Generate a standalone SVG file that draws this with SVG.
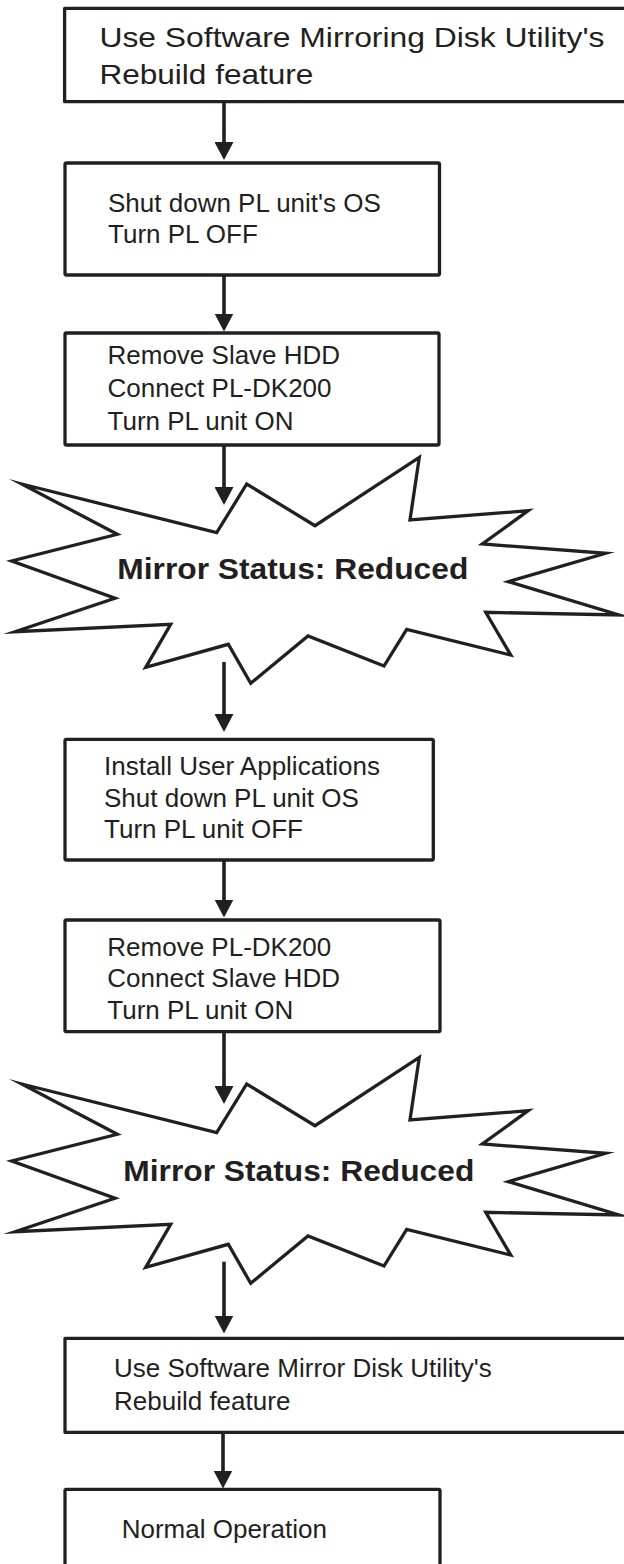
<svg xmlns="http://www.w3.org/2000/svg" xmlns:xlink="http://www.w3.org/1999/xlink" width="624" height="1564" viewBox="0 0 624 1564">
<style>
.box{fill:#fff;stroke:#231f20;stroke-width:3.3;stroke-linejoin:round}
.burst{fill:#fff;stroke:#231f20;stroke-width:3.3;stroke-linejoin:miter;stroke-miterlimit:20}
.t{font-family:"Liberation Sans",Arial,Helvetica,sans-serif;font-size:26px;fill:#231f20}
.tl{font-family:"Liberation Sans",Arial,Helvetica,sans-serif;font-size:28.5px;fill:#231f20}
.tb{font-family:"Liberation Sans",Arial,Helvetica,sans-serif;font-size:29px;font-weight:bold;fill:#231f20}
.c{stroke:#231f20;stroke-width:3.6;fill:none}
</style>
<defs>
<marker id="ah" markerUnits="userSpaceOnUse" markerWidth="18" markerHeight="19" viewBox="0 0 18 19" refX="6" refY="9.5" orient="auto">
<path d="M0,0 L18,9.5 L0,19 z" fill="#231f20"/>
</marker>
<polygon id="burstShape" points="21.7,484 216.7,532.7 246.7,484 315,525.7 419.3,457.3 410,520 528.3,510.7 482.3,544 605.7,553.3 508.3,581.7 619,615 485.7,612.3 510.7,655 406.7,629.3 384,666 308,636 250.7,683.3 228.3,644.3 145.7,667.3 170.7,624.3 15,631.7 115,598.3 11.7,561 117.3,534.3"/>
</defs>
<g id="n1">
<rect class="box" x="64.6" y="8.3" width="600" height="93.4"/>
<text class="tl" x="99.4" y="46.5" textLength="505" lengthAdjust="spacingAndGlyphs">Use Software Mirroring Disk Utility's</text>
<text class="tl" x="99.4" y="84.2" textLength="214" lengthAdjust="spacingAndGlyphs">Rebuild feature</text>
</g>
<g id="n2">
<rect class="box" x="65" y="163" width="374.5" height="112" rx="1.5"/>
<text class="t" x="108" y="211.7">Shut down PL unit's OS</text>
<text class="t" x="108" y="243.3">Turn PL OFF</text>
</g>
<g id="n3">
<rect class="box" x="65" y="333" width="374" height="112" rx="1.5"/>
<text class="t" x="107.5" y="364">Remove Slave HDD</text>
<text class="t" x="107.5" y="397">Connect PL-DK200</text>
<text class="t" x="107.5" y="430">Turn PL unit ON</text>
</g>
<g id="n4">
<use xlink:href="#burstShape" class="burst"/>
<text class="tb" x="117.3" y="579" textLength="351" lengthAdjust="spacingAndGlyphs">Mirror Status: Reduced</text>
</g>
<g id="n5">
<rect class="box" x="65" y="739.3" width="368.3" height="120.7" rx="1.5"/>
<text class="t" x="104" y="775">Install User Applications</text>
<text class="t" x="104" y="806.7">Shut down PL unit OS</text>
<text class="t" x="104" y="838.3">Turn PL unit OFF</text>
</g>
<g id="n6">
<rect class="box" x="65" y="920" width="375" height="111.7" rx="1.5"/>
<text class="t" x="107.3" y="956">Remove PL-DK200</text>
<text class="t" x="107.3" y="987.3">Connect Slave HDD</text>
<text class="t" x="107.3" y="1019.3">Turn PL unit ON</text>
</g>
<g id="n7">
<use xlink:href="#burstShape" class="burst" transform="translate(0,600)"/>
<text class="tb" x="123.3" y="1181" textLength="351" lengthAdjust="spacingAndGlyphs">Mirror Status: Reduced</text>
</g>
<g id="n8">
<rect class="box" x="65" y="1338.3" width="600" height="94"/>
<text class="t" x="114" y="1376.7">Use Software Mirror Disk Utility's</text>
<text class="t" x="114" y="1410">Rebuild feature</text>
</g>
<g id="n9">
<rect class="box" x="65" y="1489.3" width="375" height="100" rx="1.5"/>
<text class="t" x="121.7" y="1538.3">Normal Operation</text>
</g>
<g id="connectors">
<line class="c" x1="224" y1="102" x2="224" y2="148" marker-end="url(#ah)"/>
<line class="c" x1="224" y1="275" x2="224" y2="319.5" marker-end="url(#ah)"/>
<line class="c" x1="224" y1="445" x2="224" y2="493" marker-end="url(#ah)"/>
<line class="c" x1="224" y1="662" x2="224" y2="720" marker-end="url(#ah)"/>
<line class="c" x1="224" y1="860" x2="224" y2="905.5" marker-end="url(#ah)"/>
<line class="c" x1="224" y1="1031.7" x2="224" y2="1092" marker-end="url(#ah)"/>
<line class="c" x1="224" y1="1261.7" x2="224" y2="1321.5" marker-end="url(#ah)"/>
<line class="c" x1="223" y1="1432" x2="223" y2="1476.5" marker-end="url(#ah)"/>
</g>
</svg>
